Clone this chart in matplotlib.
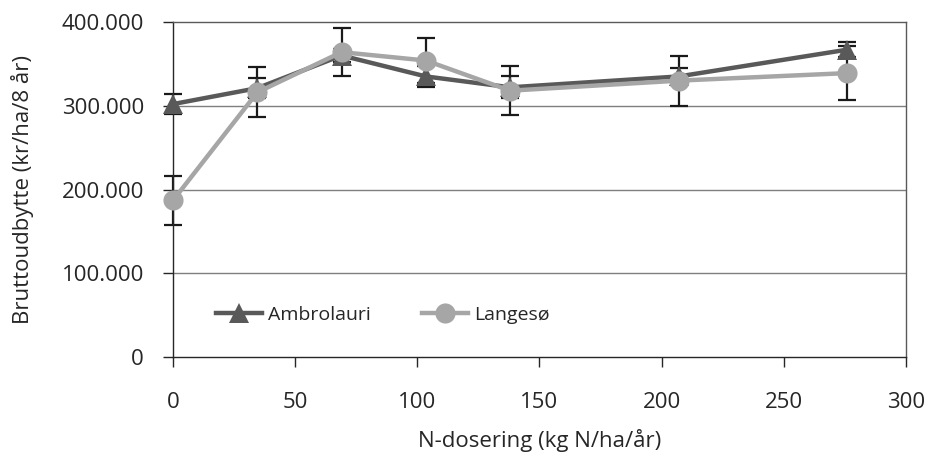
import matplotlib
matplotlib.use("Agg")
import matplotlib.pyplot as plt
from matplotlib.ticker import FixedLocator, FixedFormatter

plt.rcParams['font.family'] = ['Open Sans', 'DejaVu Sans']

# Data
n_dose = [0, 34.5, 69, 103.5, 138, 207, 276]
ambrolauri = [302000, 321000, 360000, 335000, 322000, 335000, 367000]
ambrolauri_err = [12000, 12000, 8000, 13000, 13000, 10000, 9000]
langesoe = [187000, 316000, 364000, 354000, 318000, 330000, 339000]
langesoe_err = [29000, 30000, 29000, 27000, 29000, 30000, 32000]

x_ticks = [0, 50, 100, 150, 200, 250, 300]
y_ticks = [0, 100000, 200000, 300000, 400000]
y_tick_labels = ["0", "100.000", "200.000", "300.000", "400.000"]

dark = "#595959"
light = "#a6a6a6"
text_col = "#262626"

fig = plt.figure(figsize=(9.28, 4.54), dpi=100)
ax = fig.add_axes([173/928, 1-357/454, (906-173)/928, (357-22)/454])

for y in y_ticks[1:-1]:
    ax.axhline(y, color="#7f7f7f", lw=1.0, zorder=0)

for vals, errs in [(ambrolauri, ambrolauri_err), (langesoe, langesoe_err)]:
    eb = ax.errorbar(n_dose, vals, yerr=errs, fmt='none', ecolor="#1a1a1a",
                     elinewidth=1.6, capsize=6.5, capthick=1.6, zorder=2)
    for art in eb.lines[1]:
        art.set_clip_on(False)
    for art in eb.lines[2]:
        art.set_clip_on(False)

ax.plot(n_dose, ambrolauri, color=dark, lw=3.2, marker='^', markersize=15,
        markeredgewidth=0, label="Ambrolauri", zorder=3, clip_on=False)
ax.plot(n_dose, langesoe, color=light, lw=3.2, marker='o', markersize=14.5,
        markeredgewidth=0, label="Langesø", zorder=4, clip_on=False)

ax.set_xlim(0, 300)
ax.set_ylim(0, 400000)
ax.xaxis.set_major_locator(FixedLocator(x_ticks))
ax.yaxis.set_major_locator(FixedLocator(y_ticks))
ax.yaxis.set_major_formatter(FixedFormatter(y_tick_labels))

for side in ["left", "bottom"]:
    ax.spines[side].set_color("#262626")
    ax.spines[side].set_linewidth(1.0)
for side in ["top", "right"]:
    ax.spines[side].set_color("#595959")
    ax.spines[side].set_linewidth(1.0)

ax.tick_params(axis='both', direction='out', length=7, width=1.0, color="#262626",
               labelsize=16, labelcolor=text_col)
ax.tick_params(axis='y', pad=14)
ax.tick_params(axis='x', pad=18)

ax.set_xlabel("N-dosering (kg N/ha/år)", fontsize=16, color=text_col, labelpad=12)
ax.set_ylabel("Bruttoudbytte (kr/ha/8 år)", fontsize=16, color=text_col, labelpad=20)

leg = ax.legend(loc='lower left', bbox_to_anchor=(0.045, 0.07), ncol=2, frameon=False,
                fontsize=14, handlelength=2.4, columnspacing=2.6, handletextpad=0.3,
                borderpad=0)
for t in leg.get_texts():
    t.set_color(text_col)

fig.savefig("out.png", dpi=100)
